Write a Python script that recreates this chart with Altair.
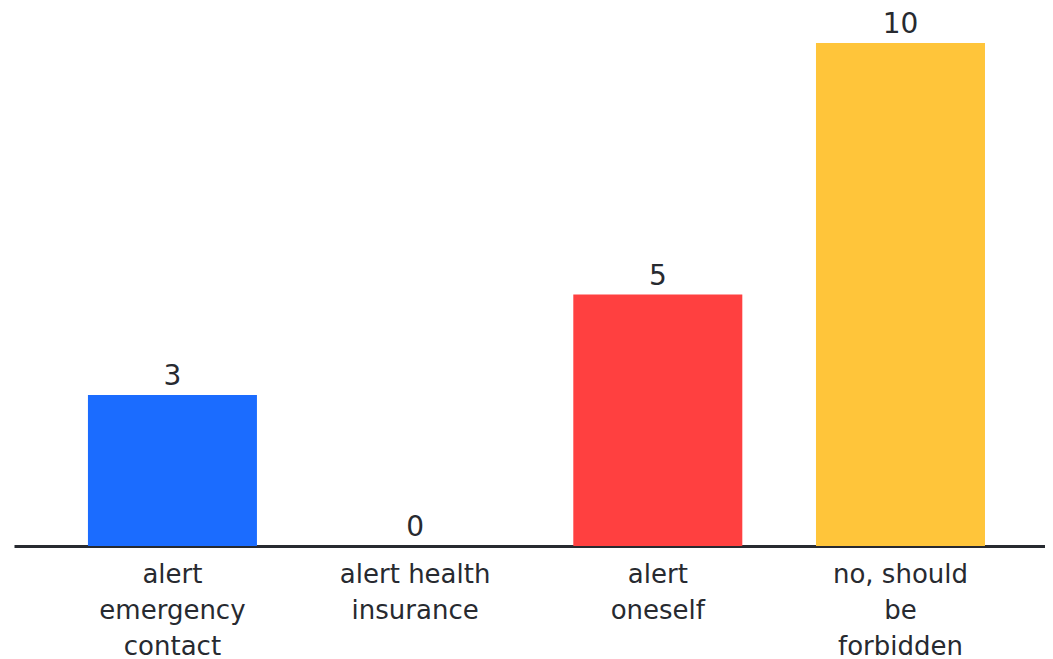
import altair as alt
import pandas as pd

categories = ["alert\nemergency\ncontact", "alert health\ninsurance", "alert\noneself", "no, should\nbe\nforbidden"]
values = [3, 0, 5, 10]
colors = ["#1b6cff", "#e8e8e8", "#ff4040", "#ffc53a"]

df = pd.DataFrame({"cat": categories, "value": values, "color": colors})

FONT = "DejaVu Sans"
TEXT = "#272a30"

x = alt.X("cat:N", sort=categories, title=None,
          scale=alt.Scale(paddingInner=0.3036, paddingOuter=0.276, align=0.552),
          axis=alt.Axis(labelAngle=0, ticks=False, domainColor=TEXT, domainWidth=3,
                        labelFontSize=26, labelFont=FONT, labelColor=TEXT,
                        labelLineHeight=36, labelPadding=36, labelBaseline="alphabetic",
                        labelExpr="split(datum.label, '\\n')"))
y = alt.Y("value:Q", scale=alt.Scale(domain=[0, 10], nice=False), axis=None)

bars = alt.Chart(df).mark_bar().encode(
    x=x, y=y, color=alt.Color("color:N", scale=None)
)
labels = alt.Chart(df).mark_text(baseline="alphabetic", dy=-10, fontSize=28, font=FONT, color=TEXT).encode(
    x=alt.X("cat:N", sort=categories), y="value:Q", text="value:Q"
)

chart = (bars + labels).properties(
    width=1031, height=503,
    autosize=alt.AutoSizeParams(type="none"),
    padding={"left": 6, "top": 35, "right": 0, "bottom": 115},
    background="white",
).configure_view(stroke=None)

chart.save("out.html", embed_options={"renderer": "svg", "actions": False})
